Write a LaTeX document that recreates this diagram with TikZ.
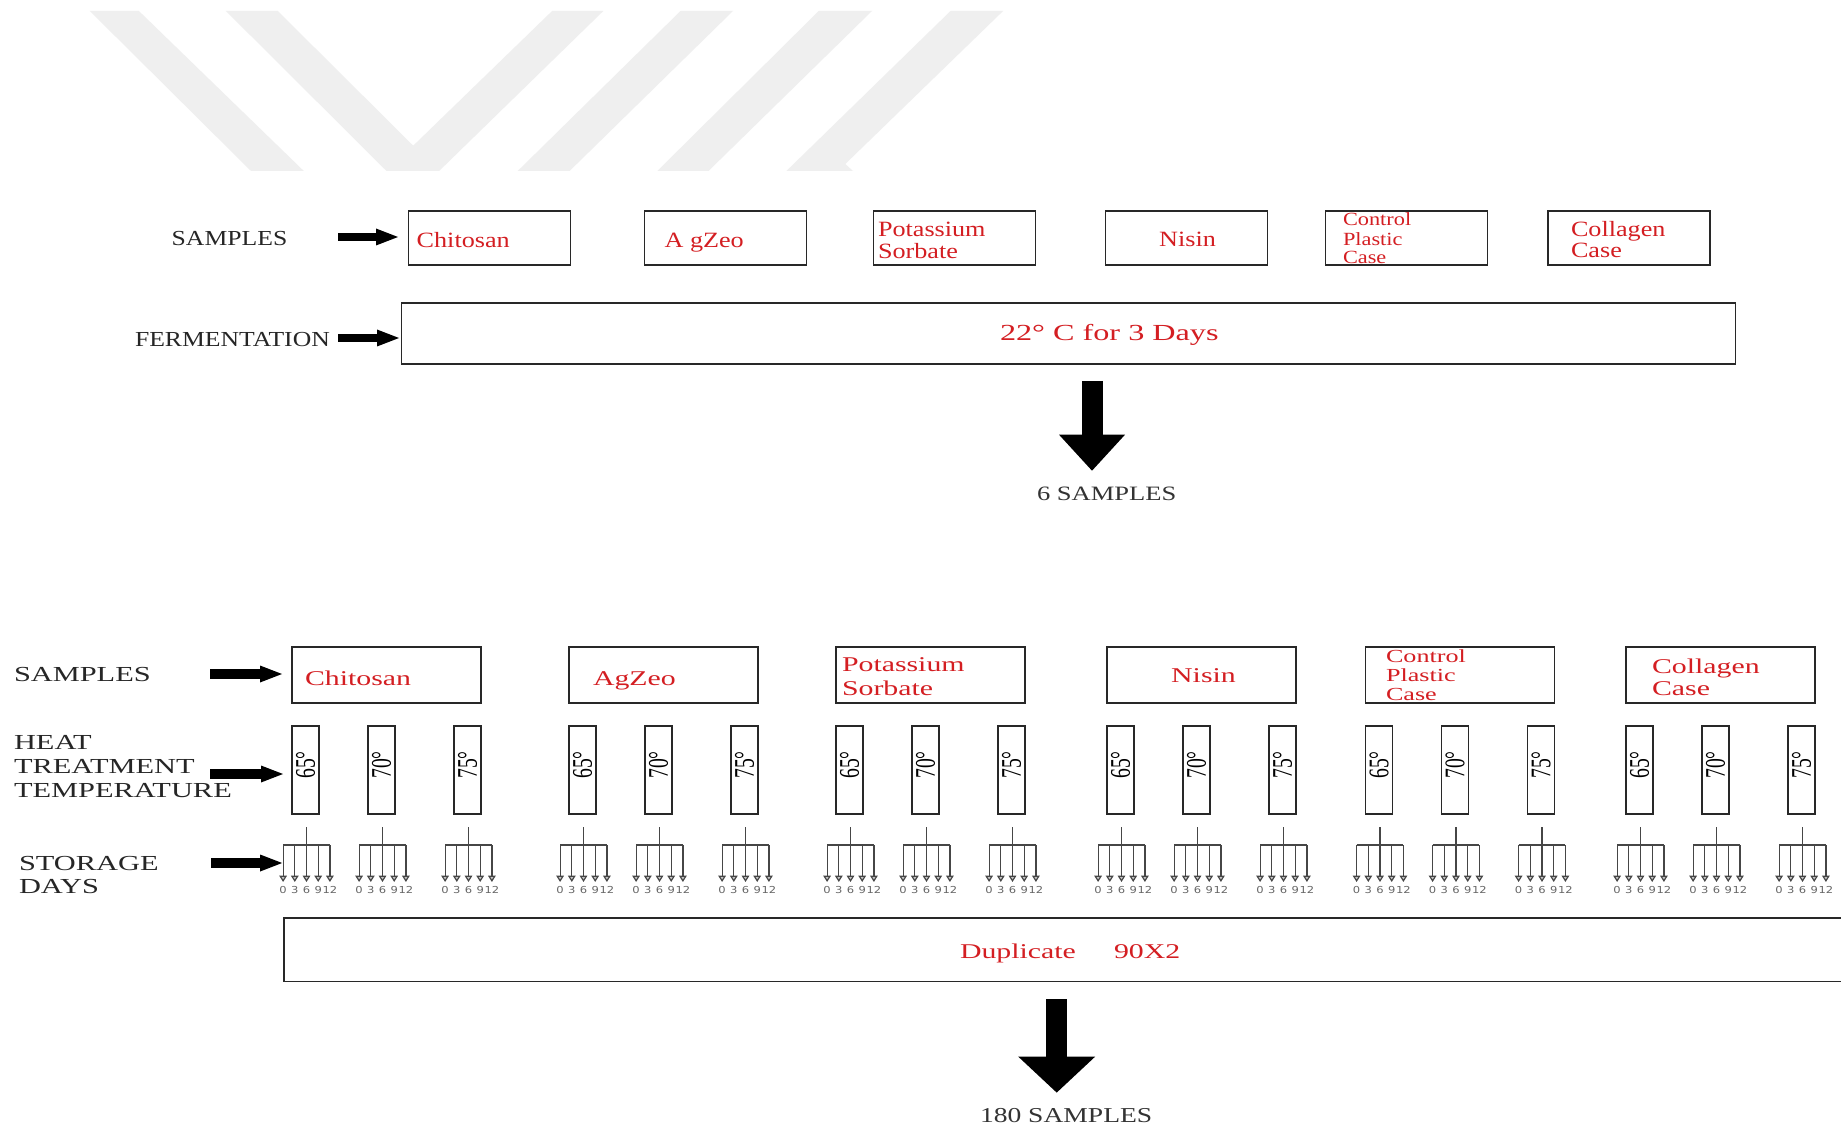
\documentclass[tikz,border=0pt]{standalone}
\usepackage{fontspec}
\usepackage{graphicx}
\setmainfont{Liberation Serif}
\newfontfamily\fontA[FakeStretch=1.2]{Liberation Serif}
\newfontfamily\fontB[FakeStretch=1.42]{Liberation Serif}
\newfontfamily\fontC[FakeStretch=1.3]{Liberation Serif}
\newfontfamily\fontE[FakeStretch=1.4]{Liberation Serif}
\newfontfamily\fontD[FakeStretch=1.2]{DejaVu Sans}
\usetikzlibrary{arrows.meta,calc}
\definecolor{txtred}{RGB}{212,30,34}
\definecolor{wm}{RGB}{239,239,239}
\definecolor{boxc}{RGB}{40,40,40}
\definecolor{fanc}{RGB}{70,70,70}
\begin{document}
\begin{tikzpicture}[x=0.5pt,y=-0.5pt,
  every node/.style={inner sep=0pt,outer sep=0pt},
  topbox/.style={draw=boxc,line width=0.75pt,minimum width=81pt,minimum height=27pt},
  botbox/.style={draw=boxc,line width=0.75pt,minimum width=94.5pt,minimum height=28pt},
  tbox/.style={draw=boxc,line width=0.75pt,minimum width=13.5pt,minimum height=44pt},
  widebox/.style={draw=boxc,line width=0.75pt},
  lblA/.style={text=txtred,anchor=base west,font=\fontA\fontsize{10.9pt}{12pt}\selectfont},
  lblAs/.style={text=txtred,anchor=base west,font=\fontA\fontsize{9.3pt}{10pt}\selectfont},
  lblB/.style={text=txtred,anchor=base west,font=\fontB\fontsize{10.5pt}{12pt}\selectfont},
  lblBs/.style={text=txtred,anchor=base west,font=\fontB\fontsize{9.2pt}{10pt}\selectfont},
  headA/.style={text=black!85,anchor=base west,font=\fontA\fontsize{10.7pt}{12pt}\selectfont},
  headB/.style={text=black!85,anchor=base west,font=\fontB\fontsize{10.7pt}{12pt}\selectfont},
  headC/.style={text=black!80,anchor=base west,font=\fontC\fontsize{10.2pt}{12pt}\selectfont},
  tlbl/.style={text=black,font=\fontsize{9.8pt}{10pt}\selectfont},
  daylbl/.style={text=black!60,font=\fontD\fontsize{4.8pt}{5pt}\selectfont},
  harrow/.style={line width=3.9pt,-{Triangle[width=8.5pt,length=11pt,line width=0pt]}},
  harrowb/.style={line width=4.6pt,-{Triangle[width=8.5pt,length=11pt,line width=0pt]}},
  bigarrow/.style={line width=10.5pt,-{Triangle[width=33pt,length=18pt,line width=0pt]}},
  bigarrowb/.style={line width=10.5pt,-{Triangle[width=38.5pt,length=18pt,line width=0pt]}},
  fanline/.style={draw=fanc,line width=0.6pt},
  fanarrow/.style={draw=fanc,line width=0.6pt,-{Triangle[width=3.8pt,length=3.2pt,fill=gray!45]}}
]
\useasboundingbox (0,0) rectangle (1841,1128);
\fill[white] (0,0) rectangle (1841,1128);
\clip (0,0) rectangle (1841,1128);

% watermark
\fill[wm] (89.8,11) -- (138.9,11) -- (303.8,171) -- (251,171) -- cycle;
\fill[wm] (225.9,11) -- (277.8,11) -- (413.2,145.7) -- (552.1,11) -- (603.3,11) -- (439.1,171) -- (386.5,171) -- cycle;
\fill[wm] (680.5,11) -- (733,11) -- (569.6,171) -- (517.7,171) -- cycle;
\fill[wm] (818.7,11) -- (872,11) -- (708.5,171) -- (657.3,171) -- cycle;
\fill[wm] (950.5,11) -- (1003.1,11) -- (845.3,164) -- (853,171) -- (786.4,171) -- cycle;

% ---------- top section ----------
\node[headA] (samp1) at (171.7,245.7) {SAMPLES};
\node[headA] (ferml) at (135,347) {FERMENTATION};

\node[topbox] (tb1) at (489.6,238) {};
\node[topbox] (tb2) at (725.6,238) {};
\node[topbox] (tb3) at (954.5,238) {};
\node[topbox] (tb4) at (1186.4,238) {};
\node[topbox] (tb5) at (1406.6,238) {};
\node[topbox] (tb6) at (1629,238) {};

\node[lblA] (lt1) at (416.7,248) {Chitosan};
\node[lblA] (lt2) at (664.6,248) {A gZeo};
\node[lblA] (lt3a) at (878,237) {Potassium};
\node[lblA] (lt3b) at (878,259) {Sorbate};
\node[lblA,anchor=base] (lt4) at (1187.5,247) {Nisin};
\node[lblAs] (lt5a) at (1343,226) {Control};
\node[lblAs] (lt5b) at (1343,246) {Plastic};
\node[lblAs] (lt5c) at (1343,264) {Case};
\node[lblA] (lt6a) at (1571,237) {Collagen};
\node[lblA] (lt6b) at (1571,258) {Case};

\node[widebox,minimum width=666.9pt,minimum height=30.5pt] (ferm) at (1068.4,333.5) {};
\node[text=txtred,anchor=base west,font=\fontE\fontsize{11.5pt}{13pt}\selectfont] (fermt) at (1000,341) {22° C for 3 Days};

\coordinate (sa1) at (338,237);
\draw[harrow,shorten >=5.3pt] (sa1) -- (sa1 -| tb1.west);
\coordinate (fa1) at (338,338);
\draw[harrow,shorten >=1.25pt] (fa1) -- (fa1 -| ferm.west);

\node[headC] (six) at (1037,500) {6 SAMPLES};
\coordinate (ba1s) at ($(ferm.south)+(23.6,17)$);
\draw[bigarrow,shorten >=7.9pt] (ba1s) -- (ba1s |- six.north);

% ---------- bottom section ----------
\node[headB] (samp2) at (14,681) {SAMPLES};
\node[headB] (heat1) at (14,749) {HEAT};
\node[headB] (heat2) at (14,773) {TREATMENT};
\node[headB] (heat3) at (14,797) {TEMPERATURE};
\node[headB] (stor1) at (19,870) {STORAGE};
\node[headB] (stor2) at (19,893) {DAYS};

\foreach \gx [count=\gi] in {292,569,836,1107,1365.5,1626} {
  \node[botbox] (b\gi) at (\gx+94.5,675) {};
  \foreach \dx/\tv [count=\gj] in {13.5/65,89.5/70,175.5/75} {
    \node[tbox] (t\gi\gj) at (\gx+\dx,770) {};
    \node[tlbl,rotate=90] (tl\gi\gj) at ($(t\gi\gj.center)+(0,-5)$) {\scalebox{1}[1.45]{\tv°}};
    \coordinate (f\gi\gj) at ($(t\gi\gj.south)+(1,0)$);
    \draw[fanline] ($(f\gi\gj)+(0,13)$) -- ($(f\gi\gj)+(0,31)$);
    \draw[fanline] ($(f\gi\gj)+(-23.4,31)$) -- ($(f\gi\gj)+(23.4,31)$);
    \foreach \kk/\dd in {-2/0,-1/3,0/6,1/9,2/12} {
      \draw[fanarrow] ($(f\gi\gj)+(\kk*11.7,31)$) -- ($(f\gi\gj)+(\kk*11.7,68)$);
      \node[daylbl] (d\gi\gj x\dd) at ($(f\gi\gj)+(\kk*11.7,75.5)$) {\dd};
    }
  }
}

\node[lblB] (lb1) at (305,685) {Chitosan};
\node[lblB] (lb2) at (593,685) {AgZeo};
\node[lblB] (lb3a) at (842,671.5) {Potassium};
\node[lblB] (lb3b) at (842,695) {Sorbate};
\node[lblB,anchor=base] (lb4) at (1203.5,682) {Nisin};
\node[lblBs] (lb5a) at (1386,662) {Control};
\node[lblBs] (lb5b) at (1386,681) {Plastic};
\node[lblBs] (lb5c) at (1386,700) {Case};
\node[lblB] (lb6a) at (1652,673) {Collagen};
\node[lblB] (lb6b) at (1652,695) {Case};

\coordinate (sa2) at (210,674);
\draw[harrowb,shorten >=5pt] (sa2) -- (sa2 -| b1.west);
\coordinate (ha2) at (210,774);
\draw[harrowb,shorten >=4.5pt] (ha2) -- (ha2 -| t11.west);
\coordinate (fl) at ($(f11)+(-23.4,0)$);
\coordinate (st2) at (211,863);
\draw[harrowb,shorten >=0.5pt] (st2) -- (st2 -| fl);

\node[widebox,minimum width=788pt,minimum height=31.85pt] (dup) at (1072,949.85) {};
\node[lblB] (dupt) at (960,958) {Duplicate};
\node[lblB] (dupn) at (1114,958) {90X2};

\node[headC,font=\fontC\fontsize{10.6pt}{12pt}\selectfont] (oneeighty) at (980,1122.7) {180 SAMPLES};
\coordinate (ba2s) at ($(dup.south)+(-15.3,17.3)$);
\draw[bigarrowb,shorten >=8pt] (ba2s) -- (ba2s |- oneeighty.north);
\end{tikzpicture}
\end{document}
